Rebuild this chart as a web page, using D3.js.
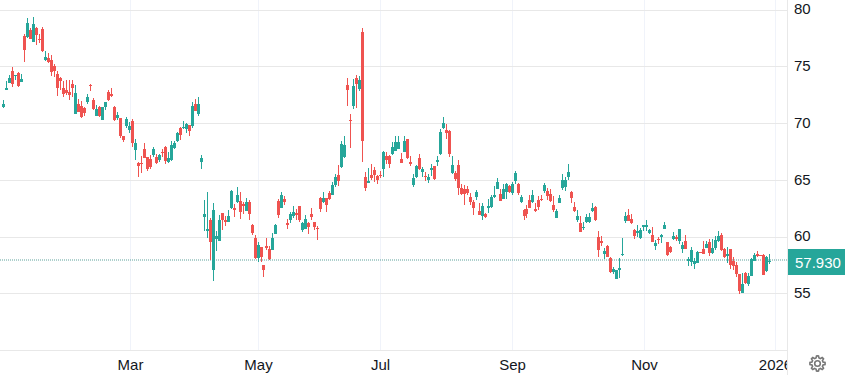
<!DOCTYPE html>
<html><head><meta charset="utf-8">
<script src="https://cdn.jsdelivr.net/npm/d3@7/dist/d3.min.js"></script>
<style>html,body{margin:0;padding:0;background:#fff}svg{display:block}text{font-family:"Liberation Sans",Arial,sans-serif}</style>
</head><body><div id="chart"></div>
<script>
const opens=[71.46,72.96,73.58,74.64,74.20,74.46,73.67,77.73,77.64,78.26,77.20,78.44,77.47,78.35,75.61,75.79,75.61,75.08,74.38,74.02,
73.14,72.96,72.79,73.49,70.84,71.73,71.55,71.37,71.90,73.40,72.08,70.66,71.46,70.31,71.46,72.79,72.61,71.46,70.49,70.49,
68.90,69.78,69.43,70.22,67.66,66.51,66.51,67.75,67.04,66.87,67.22,67.04,66.78,67.48,67.93,66.60,66.78,67.84,68.46,69.60,
69.60,69.52,69.87,69.78,71.73,70.84,66.60,61.74,60.51,61.48,57.06,59.80,59.62,62.10,61.48,61.30,62.54,62.54,63.07,63.16,
62.89,62.27,63.07,61.04,59.89,58.12,59.09,57.50,59.18,58.92,58.83,60.24,63.16,62.54,63.33,61.21,61.48,61.83,62.10,62.71,
60.59,60.68,61.21,62.01,61.30,60.77,63.42,63.07,63.42,63.86,63.69,64.57,65.45,66.16,67.04,73.40,70.31,71.55,74.02,73.05,
78.09,65.28,64.75,65.45,65.89,65.36,65.45,65.98,67.13,67.13,67.31,67.57,67.75,66.87,67.48,68.63,66.60,64.57,65.28,66.95,
65.72,65.36,65.01,65.89,66.25,66.60,67.31,69.60,69.43,69.34,65.63,65.63,66.34,64.30,64.22,64.22,63.51,63.07,63.51,62.27,
61.83,62.01,62.54,62.63,63.51,64.22,63.77,63.33,63.95,64.48,63.86,64.92,64.66,63.07,62.36,62.45,63.24,63.07,62.45,63.24,
63.33,64.04,64.04,63.77,62.80,61.65,62.98,64.30,64.39,65.28,63.95,62.63,61.48,61.21,60.77,61.30,61.30,62.27,62.63,59.98,
59.62,58.47,59.18,58.12,56.88,56.27,57.06,58.39,61.39,61.92,61.57,60.59,60.33,59.89,60.86,60.86,60.33,60.15,59.18,59.80,
59.98,60.68,59.53,59.09,59.80,59.98,59.62,58.92,59.62,57.86,57.77,57.59,57.68,58.65,58.92,59.00,59.53,58.56,59.00,59.62,
60.15,58.92,58.30,58.92,57.86,57.50,56.71,55.03,56.80,55.82,56.53,57.86,58.47,58.39,58.39,56.97,57.77];
const highs=[72.08,73.76,74.29,74.99,74.29,74.55,74.38,77.91,79.32,78.44,79.41,78.53,77.91,78.53,76.41,76.23,76.05,75.26,74.64,74.11,
73.76,73.85,73.85,73.85,73.40,72.17,71.99,71.46,72.61,73.49,72.26,71.64,71.55,71.46,71.90,72.96,73.14,71.55,71.02,70.49,
68.90,70.58,70.13,70.40,68.63,66.60,67.13,68.28,67.04,67.22,67.93,67.31,67.31,67.75,68.01,67.48,68.46,68.46,69.25,69.69,
70.22,70.05,69.87,71.90,72.17,72.34,67.22,63.24,63.95,61.65,62.98,60.51,61.92,62.10,61.83,62.36,64.13,62.89,64.39,63.95,
63.07,63.42,63.24,61.12,60.15,59.53,59.09,57.50,59.89,59.18,60.33,61.12,63.33,63.95,63.60,61.57,62.18,62.71,62.45,62.71,
61.30,61.92,61.30,62.54,61.30,60.95,63.51,63.95,63.42,64.04,64.83,65.54,66.34,68.46,68.90,74.02,70.84,73.93,74.29,74.20,
78.44,65.72,66.07,66.42,66.16,65.45,65.81,67.57,67.48,67.22,68.37,68.90,68.90,67.40,68.90,68.63,67.13,65.54,66.34,67.31,
66.16,65.72,65.54,66.42,66.25,67.13,69.52,70.58,69.96,69.43,67.13,65.81,66.78,64.66,64.57,64.48,63.86,63.24,64.13,62.98,
62.98,62.10,63.33,63.69,64.48,65.19,64.22,64.66,64.75,64.57,64.83,65.81,64.75,63.69,62.45,62.80,63.69,64.13,62.98,63.60,
63.69,64.75,64.30,64.22,63.60,62.45,63.69,65.54,65.28,66.42,64.04,63.07,62.36,61.83,61.30,62.01,62.10,62.98,62.71,60.51,
60.06,59.00,59.27,58.21,57.33,57.06,58.12,59.89,62.18,62.45,62.01,60.68,61.04,60.77,61.04,61.48,60.68,60.86,59.71,59.98,
60.24,61.30,59.53,59.18,60.42,60.15,60.68,59.53,60.15,58.21,59.09,58.12,58.74,58.65,59.62,59.62,59.80,59.80,60.06,60.51,
60.33,59.00,59.09,58.92,58.21,57.77,56.71,56.80,56.88,56.80,58.12,58.56,58.74,58.39,58.47,58.30,58.47];
const lows=[71.37,72.96,73.58,73.23,73.85,73.23,73.67,75.44,77.56,77.47,77.20,76.94,77.11,76.32,75.52,75.35,74.20,74.11,72.43,72.96,
72.34,72.52,72.08,72.34,70.84,71.02,70.49,70.66,71.73,72.87,71.19,70.66,70.58,70.31,71.19,71.99,72.34,70.22,70.31,68.72,
68.37,69.60,69.16,67.93,66.78,65.28,65.63,66.95,65.81,65.98,67.04,66.42,66.60,67.04,66.42,66.51,66.69,67.75,68.37,68.54,
69.52,69.16,68.90,69.60,71.11,70.66,65.98,60.51,59.89,57.94,56.09,58.74,59.62,60.59,60.95,61.30,62.45,61.74,62.98,61.57,
62.01,62.27,61.48,60.15,58.03,57.77,57.77,56.44,58.83,57.94,58.83,60.24,61.65,62.54,62.80,60.68,61.21,61.65,61.48,61.30,
60.42,60.68,60.24,61.48,60.59,59.71,62.18,62.98,62.18,63.24,63.69,64.39,64.48,66.07,66.95,71.55,67.84,71.28,71.37,72.87,
66.60,64.04,64.75,65.01,64.83,64.66,65.19,65.28,66.42,66.07,67.22,67.57,67.75,66.51,67.48,66.87,66.25,64.39,65.19,65.89,
65.28,64.92,64.75,65.36,65.01,66.25,67.22,69.52,68.63,67.04,65.54,64.92,63.69,63.69,62.80,63.69,62.80,61.92,63.24,61.92,
61.48,61.65,62.10,62.54,63.42,64.22,63.16,63.33,63.33,63.86,63.69,64.66,63.69,62.98,61.48,61.65,62.54,62.98,62.18,62.36,
63.16,63.86,63.24,63.07,62.18,61.65,62.98,64.13,64.04,65.01,62.98,62.18,61.30,60.42,60.59,61.21,61.21,62.18,61.39,58.21,
59.18,58.03,58.21,56.80,56.71,56.27,56.35,58.30,61.21,61.39,61.12,59.80,59.98,59.80,60.51,60.51,60.24,59.53,58.83,59.36,
59.45,60.68,58.30,58.56,59.71,59.62,59.36,58.56,58.92,57.41,57.41,57.15,57.68,58.56,58.47,59.00,58.30,58.47,58.83,59.53,
58.74,58.12,57.68,57.15,57.06,56.44,54.94,55.03,55.82,55.65,56.53,57.86,58.21,58.30,56.62,56.88,57.59];
const closes=[71.73,73.14,74.02,73.49,74.29,73.32,73.93,76.50,78.88,77.47,78.79,77.82,77.38,76.41,75.88,75.44,74.55,74.64,73.14,73.76,
72.61,72.70,72.52,73.14,72.70,71.02,70.58,70.93,72.34,73.32,71.28,71.28,70.66,71.46,71.90,72.08,72.43,70.31,70.75,68.90,
68.54,70.40,69.78,68.28,68.28,66.25,66.42,66.95,65.98,66.16,67.75,66.51,67.22,67.40,66.69,66.95,68.10,68.28,69.16,68.99,
69.69,69.96,69.34,71.55,71.11,71.73,66.95,62.01,60.68,59.53,62.36,60.06,61.48,61.48,61.30,61.83,64.04,62.36,63.69,62.18,
62.71,63.07,62.01,60.33,58.12,59.27,58.21,57.06,59.00,58.03,59.89,61.04,61.92,63.69,63.07,61.04,62.01,62.18,61.92,61.48,
61.21,61.57,60.86,61.74,60.86,60.68,62.45,63.42,62.80,63.33,64.57,65.28,64.92,68.19,68.10,72.96,70.22,73.32,73.49,73.85,
68.46,64.30,64.92,65.19,65.45,65.01,65.36,67.48,66.78,66.42,67.93,68.37,68.37,66.51,68.46,66.95,66.42,65.19,66.25,65.98,
65.98,65.28,65.28,66.07,65.10,66.78,69.25,70.05,69.16,67.31,66.34,65.10,64.30,63.77,63.77,63.86,63.07,62.54,63.95,61.92,
62.71,61.74,62.71,63.51,63.69,64.83,63.16,64.22,64.66,63.95,64.66,65.63,63.86,63.51,61.83,62.01,62.54,63.69,62.27,62.63,
63.24,64.57,63.60,63.16,62.36,62.27,63.42,65.01,65.01,65.72,63.42,62.27,61.83,60.42,60.86,61.74,61.74,62.54,61.48,58.83,
59.45,58.74,58.21,56.88,57.15,57.06,57.24,58.47,61.83,61.39,61.21,60.06,60.51,60.59,61.04,61.04,60.59,59.53,59.45,59.71,
60.15,61.04,58.39,58.65,60.06,59.80,60.68,59.27,58.92,58.03,58.83,57.86,58.65,58.56,58.47,59.36,58.56,59.00,59.71,60.06,
58.83,58.21,58.47,57.50,57.41,56.71,55.21,55.82,55.91,56.53,58.03,58.39,58.30,58.30,56.62,58.21,57.93];
const priceTicks=[55,60,65,70,75,80];
const timeTickLabels=["Mar","May","Jul","Sep","Nov","2026"];
const timeTickBars=[42.33,85,126,170,214.33,258];
const lastPrice=57.93, lastPriceLabel="57.930";

const W=845,H=375,plotR=787,plotB=350;
const UP="#26a69a",DOWN="#ef5350",GRID_H="#e8e8e8",GRID_V="#f0f3fa";
const svg=d3.select("#chart").append("svg").attr("width",W).attr("height",H);
const x=d3.scaleLinear().domain([0,86,87,174,175,256]).range([3.5,261.5,263.5,524.5,526.5,769.5]);
const y=d3.scaleLinear().domain([55,80]).range([293.75,10.25]);
const defs=svg.append("defs");
defs.append("clipPath").attr("id","plot").append("rect").attr("width",plotR).attr("height",plotB);

// vertical grid + time labels
const xAxis=d3.axisBottom(x).tickValues(timeTickBars).tickFormat((d,i)=>timeTickLabels[i]).tickSize(-plotB).tickPadding(0);
const gx=svg.append("g").attr("transform",`translate(0,${plotB})`).attr("clip-path","url(#timeClipAll)").call(xAxis);
defs.append("clipPath").attr("id","timeClipAll").append("rect").attr("y",-plotB).attr("width",plotR).attr("height",H);
gx.select(".domain").remove();
gx.selectAll(".tick").attr("transform",d=>`translate(${Math.floor(x(d))+.5},0)`);
gx.selectAll("line").attr("stroke",GRID_V);
gx.selectAll("text").attr("y",20).attr("dy",null).attr("font-size",15).attr("fill","#131722")
  .attr("font-family",'"Liberation Sans",Arial,sans-serif');

// horizontal grid + price labels
const yAxis=d3.axisRight(y).tickValues(priceTicks).tickSize(-plotR).tickPadding(7);
const gy=svg.append("g").attr("transform",`translate(${plotR},0)`).call(yAxis);
gy.select(".domain").remove();
gy.selectAll(".tick").attr("transform",d=>`translate(0,${Math.floor(y(d))+.5})`);
gy.selectAll("line").attr("stroke",GRID_H);
gy.selectAll("text").attr("font-size",15).attr("fill","#131722").attr("font-family",'"Liberation Sans",Arial,sans-serif')
  .attr("dy",null).attr("y",d=>Math.round(y(d)+4.2)-(Math.floor(y(d))+.5));

// axis borders
svg.append("line").attr("x1",plotR+.5).attr("x2",plotR+.5).attr("y1",0).attr("y2",H).attr("stroke",GRID_H);
svg.append("line").attr("x1",0).attr("x2",plotR).attr("y1",plotB+.5).attr("y2",plotB+.5).attr("stroke",GRID_H);

// last price line
const py=Math.floor(y(lastPrice));
svg.append("line").attr("x1",0).attr("x2",plotR).attr("y1",py).attr("y2",py)
  .attr("stroke","#3d8f88").attr("stroke-opacity",.42).attr("stroke-width",2).attr("stroke-dasharray","1 1");

// candles
const idx=d3.range(closes.length);
const g=svg.append("g").attr("clip-path","url(#plot)").attr("shape-rendering","crispEdges");
const col=i=>closes[i]>=opens[i]?UP:DOWN;
g.selectAll("rect.wick").data(idx).join("rect").attr("class","wick")
  .attr("x",i=>x(i)-.5).attr("width",1)
  .attr("y",i=>Math.round(y(highs[i])))
  .attr("height",i=>Math.max(1,Math.round(y(lows[i]))-Math.round(y(highs[i]))))
  .attr("fill",col);
g.selectAll("rect.body").data(idx).join("rect").attr("class","body")
  .attr("x",i=>x(i)-1.5).attr("width",3)
  .attr("y",i=>Math.round(y(Math.max(opens[i],closes[i]))))
  .attr("height",i=>Math.max(1,Math.round(y(Math.min(opens[i],closes[i])))-Math.round(y(Math.max(opens[i],closes[i])))))
  .attr("fill",col);

// last price tag
svg.append("rect").attr("x",plotR+1).attr("y",py-11).attr("width",W-plotR-1).attr("height",26).attr("fill",UP);
svg.append("text").attr("x",795).attr("y",py+8).attr("font-size",15).attr("fill","#fff").text(lastPriceLabel);

// settings gear
const gear=svg.append("g").attr("transform","translate(817.5,363.5)").attr("fill","none").attr("stroke","#777").attr("stroke-width",1.6);
const gearPts=d3.range(48).map(k=>{const a=k/48*2*Math.PI,ph=((k+1)%6)/6;return [a,ph<.5?7.6:5.7];});
gear.append("path").attr("d",d3.lineRadial().curve(d3.curveLinearClosed)(gearPts));
gear.append("circle").attr("r",2.8);
</script></body></html>
